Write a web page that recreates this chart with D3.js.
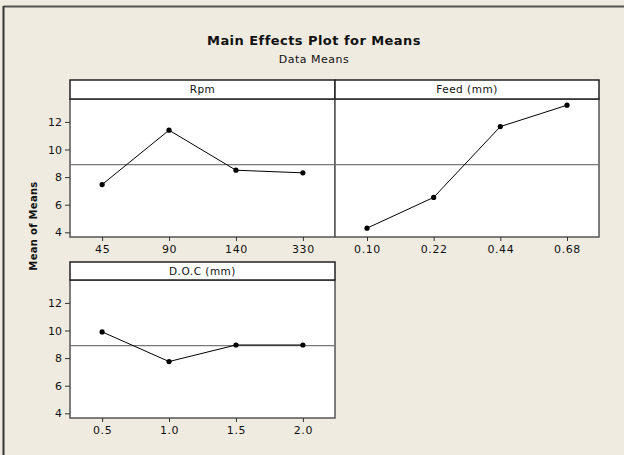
<!DOCTYPE html>
<html>
<head>
<meta charset="utf-8">
<script src="https://cdn.jsdelivr.net/npm/d3@7"></script>
<style>
  html, body { margin: 0; padding: 0; background: #f0ebe1; }
  svg { display: block; }
  text { font-family: "DejaVu Sans", Verdana, sans-serif; fill: #111; }
</style>
</head>
<body>
<svg id="chart" width="624" height="455"></svg>
<script>
// ---- Data ----
const factors = ["Rpm", "Feed (mm)", "D.O.C (mm)"];
const rpmLevels = ["45", "90", "140", "330"];
const rpmMeans = [7.46, 11.40, 8.50, 8.31];
const feedLevels = ["0.10", "0.22", "0.44", "0.68"];
const feedMeans = [4.30, 6.53, 11.66, 13.21];
const docLevels = ["0.5", "1.0", "1.5", "2.0"];
const docMeans = [9.90, 7.75, 8.95, 8.95];
const yTicks = [4, 6, 8, 10, 12];
const yDomain = [3.66, 13.66];
const titleText = "Main Effects Plot for Means";
const subtitleText = "Data Means";
const yLabelText = "Mean of Means";

const allMeans = rpmMeans.concat(feedMeans, docMeans);
const grandMean = d3.mean(allMeans);

// ---- Layout ----
const svg = d3.select("#chart");
svg.append("rect").attr("x", 0).attr("y", 0).attr("width", 624).attr("height", 455).attr("fill", "#f0ebe1");
// outer frame (top + left edges visible)
svg.append("line").attr("x1", 3.5).attr("x2", 624).attr("y1", 6.5).attr("y2", 6.5)
  .attr("stroke", "#555").attr("stroke-width", 2);
svg.append("line").attr("x1", 3.5).attr("x2", 3.5).attr("y1", 6).attr("y2", 455)
  .attr("stroke", "#333").attr("stroke-width", 2);

svg.append("text").attr("x", 314).attr("y", 45).attr("text-anchor", "middle")
  .attr("font-weight", "bold").attr("font-size", "13px").attr("letter-spacing", "0.45px").text(titleText);
svg.append("text").attr("x", 314).attr("y", 63).attr("text-anchor", "middle")
  .attr("font-size", "11px").attr("letter-spacing", "0.5px").text(subtitleText);

svg.append("text")
  .attr("transform", "translate(37,226) rotate(-90)")
  .attr("text-anchor", "middle").attr("font-weight", "bold").attr("font-size", "10px")
  .attr("letter-spacing", "0.3px").text(yLabelText);

const panels = [
  { name: factors[0], levels: rpmLevels, means: rpmMeans, x0: 70, x1: 335, st: 80, top: 99, bot: 237, yaxis: true },
  { name: factors[1], levels: feedLevels, means: feedMeans, x0: 335, x1: 599, st: 80, top: 99, bot: 237, yaxis: false },
  { name: factors[2], levels: docLevels, means: docMeans, x0: 70, x1: 335, st: 262, top: 280, bot: 418, yaxis: true }
];

panels.forEach(p => {
  const g = svg.append("g");
  const x = d3.scalePoint().domain(p.levels).range([p.x0, p.x1]).padding(0.48);
  const y = d3.scaleLinear().domain(yDomain).range([p.bot, p.top]);

  // plot area
  g.append("rect").attr("x", p.x0).attr("y", p.top).attr("width", p.x1 - p.x0).attr("height", p.bot - p.top)
    .attr("fill", "#ffffff").attr("stroke", "#555").attr("stroke-width", 1.5);
  // strip
  g.append("rect").attr("x", p.x0).attr("y", p.st).attr("width", p.x1 - p.x0).attr("height", p.top - p.st)
    .attr("fill", "#ffffff").attr("stroke", "#222").attr("stroke-width", 1.5);
  g.append("text").attr("x", (p.x0 + p.x1) / 2).attr("y", p.st + 13)
    .attr("text-anchor", "middle").attr("font-size", "10.5px").attr("letter-spacing", "0.5px").text(p.name);

  // reference line
  g.append("line").attr("x1", p.x0).attr("x2", p.x1).attr("y1", y(grandMean)).attr("y2", y(grandMean))
    .attr("stroke", "#777").attr("stroke-width", 1.3);

  // x axis
  const xa = g.append("g").attr("transform", `translate(0,${p.bot})`)
    .call(d3.axisBottom(x).tickSize(4).tickPadding(4));
  xa.select(".domain").remove();
  xa.selectAll("line").attr("stroke", "#333");
  xa.selectAll("text").attr("font-size", "11px").attr("letter-spacing", "0.6px")
    .attr("font-family", '"DejaVu Sans", Verdana, sans-serif').attr("fill", "#222");

  if (p.yaxis) {
    const ya = g.append("g").attr("transform", `translate(${p.x0},0)`)
      .call(d3.axisLeft(y).tickValues(yTicks).tickSize(5).tickPadding(3));
    ya.select(".domain").remove();
    ya.selectAll("line").attr("stroke", "#333");
    ya.selectAll("text").attr("font-size", "11px")
      .attr("font-family", '"DejaVu Sans", Verdana, sans-serif').attr("fill", "#222");
  }

  // data line and points
  const pts = p.levels.map((l, i) => [x(l), y(p.means[i])]);
  g.append("path").attr("d", d3.line()(pts)).attr("fill", "none").attr("stroke", "#000").attr("stroke-width", 1);
  g.selectAll("circle.pt").data(pts).enter().append("circle")
    .attr("cx", d => d[0]).attr("cy", d => d[1]).attr("r", 2.6).attr("fill", "#000");
});
</script>
</body>
</html>
